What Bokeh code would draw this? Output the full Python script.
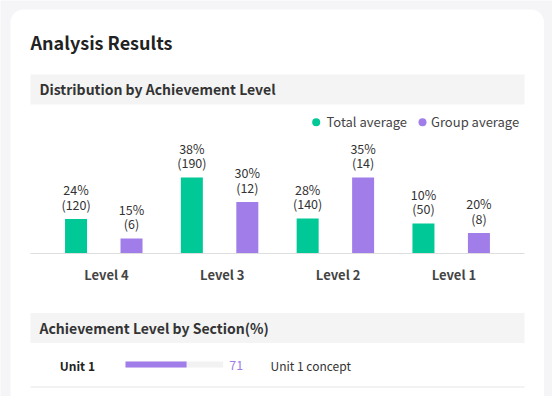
from bokeh.plotting import figure
from bokeh.models import Range1d, BoxAnnotation, ColumnDataSource
from bokeh.core.properties import value
from bokeh.transform import dodge
from bokeh.embed import file_html
from bokeh.resources import INLINE

# ---------------- data ----------------
levels = ["Level 4", "Level 3", "Level 2", "Level 1"]
total_pct = [24, 38, 28, 10]
total_cnt = [120, 190, 140, 50]
group_pct = [15, 30, 35, 20]
group_cnt = [6, 12, 14, 8]
# drawn bar heights
total_bar = [34, 75.5, 34.5, 29.5]
group_bar = [14.5, 51, 75.5, 20]
series_names = ["Total average", "Group average"]

units = ["Unit 1"]
unit_scores = [71]
unit_bar = [62.5]
unit_names = ["Unit 1 concept"]

title_text = "Analysis Results"
section_titles = ["Distribution by Achievement Level", "Achievement Level by Section(%)"]

# ---------------- styles ----------------
FONT = value("Noto Sans CJK KR")
BG = "#f5f5f8"
GREEN = "#00c896"
PURPLE = "#a07de8"
HEAD_BG = "#f4f4f4"
DARK = "#222222"
TXT = "#333333"

W, H = 552, 396

p = figure(width=W, height=H, x_range=Range1d(0, W), y_range=Range1d(H, 0),
           output_backend="svg", toolbar_location=None, min_border=0,
           x_axis_type=None, y_axis_type=None,
           background_fill_color=BG, border_fill_color=BG, outline_line_color=None)

BAND = 115.8          # px per category
X0 = 102.3            # px of first category index
BASE = 252.5          # px of bar baseline
p.extra_x_ranges = {"lvl": Range1d(-X0 / BAND, (W - X0) / BAND),
                    "pct": Range1d(-125 / 0.977, (W - 125) / 0.977)}
p.extra_y_ranges = {"val": Range1d(-(H - BASE), BASE)}

# card
p.add_layout(BoxAnnotation(left=10, right=543.5, top=9, bottom=H + 30,
                           fill_color="white", fill_alpha=1, line_color=None,
                           border_radius=13, level="underlay"))

def shift(size):
    # baseline correction for the font's metrics
    return -(2 + 0.28 * size)

def txt(x, y, s, size, bold=False, color=TXT, align="left", **kw):
    p.text(x=[x], y=[y], text=[s], text_font=FONT, text_font_size=f"{size}px",
           text_font_style="bold" if bold else "normal", text_color=color,
           text_align=align, text_baseline="alphabetic", y_offset=shift(size), **kw)

# title
txt(30, 48.3, title_text, 18, bold=True, color=DARK)

# section headers
p.quad(left=[30, 30], right=[524, 524], top=[74, 312.5], bottom=[104, 342.5],
       fill_color=HEAD_BG, line_color=None)
txt(39, 94.5, section_titles[0], 14, bold=True, color=TXT)
txt(39, 333, section_titles[1], 14, bold=True, color=TXT)

# legend
p.scatter(x=[315.7, 422], y=[121.7, 121.7], size=8, marker="circle",
          fill_color=[GREEN, PURPLE], line_color=None)
txt(326, 127, series_names[0], 13, color="#444444")
txt(430.5, 127, series_names[1], 13, color="#444444")

# bars
src = ColumnDataSource(dict(
    idx=list(range(len(levels))), level=levels,
    total_bar=total_bar, group_bar=group_bar,
    t1=[f"{v}%" for v in total_pct], t2=[f"({c})" for c in total_cnt],
    g1=[f"{v}%" for v in group_pct], g2=[f"({c})" for c in group_cnt],
))
DT, DG, BW = -0.231, 0.248, 0.19
p.vbar(x=dodge("idx", DT), top="total_bar", bottom=0, width=BW,
       source=src, x_range_name="lvl", y_range_name="val",
       fill_color=GREEN, line_color=None)
p.vbar(x=dodge("idx", DG), top="group_bar", bottom=0, width=BW,
       source=src, x_range_name="lvl", y_range_name="val",
       fill_color=PURPLE, line_color=None)

LS = 12.5
for d, top, l1, l2 in [(DT, "total_bar", "t1", "t2"), (DG, "group_bar", "g1", "g2")]:
    for col, off in [(l1, -23.8), (l2, -9.3)]:
        p.text(x=dodge("idx", d), y=top, text=col, source=src,
               x_range_name="lvl", y_range_name="val", y_offset=off + shift(LS),
               text_font=FONT, text_font_size=f"{LS}px", text_color=TXT,
               text_align="center", text_baseline="alphabetic")

# baseline
p.segment(x0=[30], x1=[524], y0=[253], y1=[253], line_color="#dedede", line_width=1)

# level labels
p.text(x=dodge("idx", 0.032), y=279.3, text="level",
       source=src, x_range_name="lvl", text_font=FONT, text_font_size="13px",
       text_font_style="bold", text_color="#444444", text_align="center",
       text_baseline="alphabetic", y_offset=shift(13))

# section row
usrc = ColumnDataSource(dict(unit=units, score=unit_scores, fill=unit_bar,
                             name=unit_names, full=[100] * len(units),
                             sc=[str(s) for s in unit_scores]))
txt(59.3, 370, units[0], 12, bold=True, color=DARK)
p.hbar(y=364, left=0, right="full", height=6, source=usrc, x_range_name="pct",
       fill_color="#f2f2f2", line_color=None)
p.hbar(y=364, left=0, right="fill", height=6, source=usrc, x_range_name="pct",
       fill_color=PURPLE, line_color=None)
p.text(x="full", y=370, text="sc", source=usrc, x_range_name="pct", x_offset=6,
       text_font=FONT, text_font_size="12.5px", text_color=PURPLE,
       text_align="left", text_baseline="alphabetic", y_offset=shift(12.5))
txt(270, 370, unit_names[0], 12, color=TXT)
p.segment(x0=[30], x1=[524], y0=[386.5], y1=[386.5], line_color="#e6e6e6", line_width=1)

open("out.html", "w").write(file_html(p, INLINE))
